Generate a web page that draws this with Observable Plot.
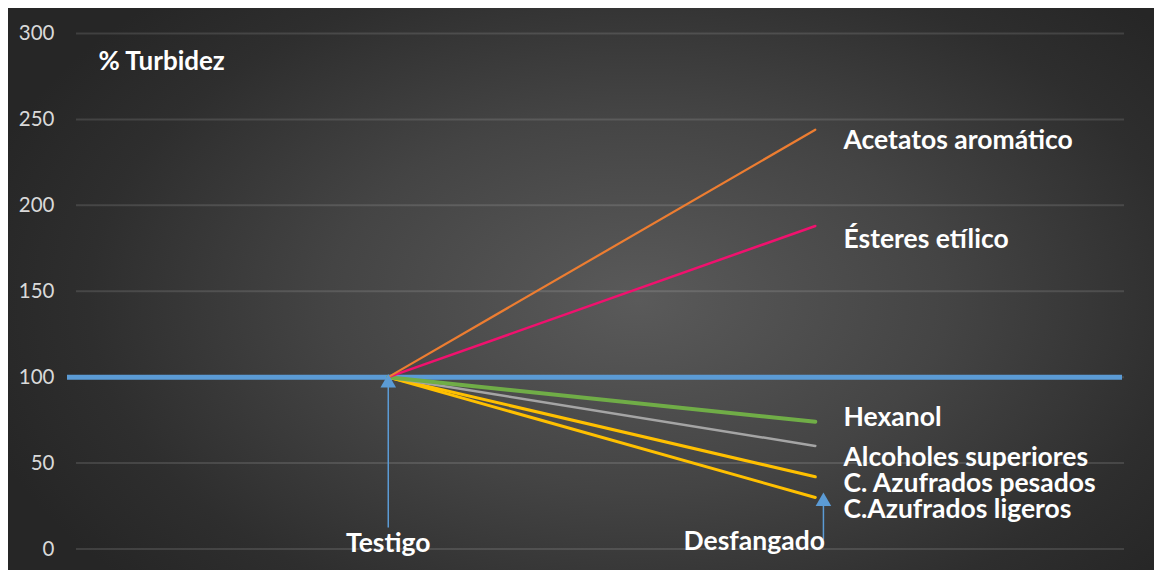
<!DOCTYPE html>
<html>
<head>
<meta charset="utf-8">
<script src="https://cdn.jsdelivr.net/npm/d3@7"></script>
<script src="https://cdn.jsdelivr.net/npm/@observablehq/plot@0.6"></script>
<style>
  html, body { margin: 0; padding: 0; background: #ffffff; }
  #chart { position: absolute; left: 8px; top: 8px; }
  #chart svg {
    display: block;
    background: radial-gradient(ellipse 60% 75% at 55% 52%, #5a5a5a 0%, #444444 45%, #2e2e2e 80%, #262626 100%);
  }
</style>
</head>
<body>
<div id="chart"></div>
<script>
// Stages (x categories) and their index positions
const stages = ["Testigo", "Desfangado"];
const stageIndex = [1, 2];

// Series: value at Testigo (100 %) and at Desfangado
const seriesNames = ["Acetatos aromático", "Ésteres etílico", "Hexanol", "Alcoholes superiores", "C. Azufrados pesados", "C.Azufrados ligeros"];
const testigoValues = [100, 100, 100, 100, 100, 100];
const desfangadoValues = [244, 188, 74, 60, 42, 30];
const seriesColors = ["#ed7d31", "#f0116e", "#70ad47", "#a5a5a5", "#ffc000", "#ffc000"];
const seriesWidths = [2.2, 2.5, 4, 2.5, 3, 3];

// Label y positions (in % Turbidez units) for the series names
const labelY = [238, 180, 76.5, 53.3, 38.1, 23];

// Reference line
const referenceValue = 100;

// Y ticks
const yTicks = [0, 50, 100, 150, 200, 250, 300];

// Arrow annotations under the stage names
const arrowX = [1, 2.019];
const arrowFrom = [12.5, 5.5];
const arrowTo = [96.6, 27.7];

// Stage label positions
const stageLabelX = [1, 1.857];
const stageLabelY = [3.2, 4.4];

const lines = [];
seriesNames.forEach((name, i) => {
  lines.push({name, x: stageIndex[0], y: testigoValues[i], order: i});
  lines.push({name, x: stageIndex[1], y: desfangadoValues[i], order: i});
});
const labels = seriesNames.map((name, i) => ({name, y: labelY[i]}));
const arrows = arrowX.map((x, i) => ({x, y1: arrowFrom[i], y2: arrowTo[i]}));
const stageLabels = stages.map((s, i) => ({s, x: stageLabelX[i], y: stageLabelY[i]}));

const font = "Lato, 'Open Sans', sans-serif";
const blue = "#5b9bd5";
const labelSize = 26.5;

const marks = [
  Plot.ruleY(yTicks, {stroke: "#ffffff", strokeOpacity: 0.12, strokeWidth: 2}),
  Plot.axisY(yTicks, {tickSize: 0, tickPadding: 22, fontSize: 20.5, fill: "#d9d9d9", fontFamily: font, label: null}),
  Plot.ruleY([referenceValue], {stroke: blue, strokeWidth: 5, insetLeft: -9, insetRight: 2}),
];
for (let i = seriesNames.length - 1; i >= 0; i--) {
  marks.push(Plot.line(lines.filter(d => d.order === i), {x: "x", y: "y", stroke: seriesColors[i], strokeWidth: seriesWidths[i]}));
}
marks.push(
  Plot.link(arrows, {x1: "x", x2: "x", y1: "y1", y2: "y2", stroke: blue, strokeWidth: 1.5}),
  Plot.dot(arrows, {x: "x", y: "y2", symbol: "triangle", r: 5.8, fill: blue, stroke: "none"}),
  Plot.text(labels, {x: 2.066, y: "y", text: "name", textAnchor: "start", fill: "#ffffff", fontSize: labelSize, fontWeight: "bold", fontFamily: font}),
  Plot.text(stageLabels, {x: "x", y: "y", text: "s", textAnchor: "middle", fill: "#ffffff", fontSize: labelSize, fontWeight: "bold", fontFamily: font}),
  Plot.text(["% Turbidez"], {frameAnchor: "top-left", dx: 22, dy: 28, text: d => d, textAnchor: "start", lineAnchor: "middle", fill: "#ffffff", fontSize: 26, fontWeight: "bold", fontFamily: font})
);

const chart = Plot.plot({
  width: 1146,
  height: 562,
  marginLeft: 68,
  marginRight: 30,
  marginTop: 25,
  marginBottom: 21.5,
  style: {fontFamily: font, color: "#d9d9d9"},
  x: {domain: [0.27, 2.724], axis: null},
  y: {domain: [0, 300], axis: null},
  marks
});
document.getElementById("chart").appendChild(chart);
</script>
</body>
</html>
